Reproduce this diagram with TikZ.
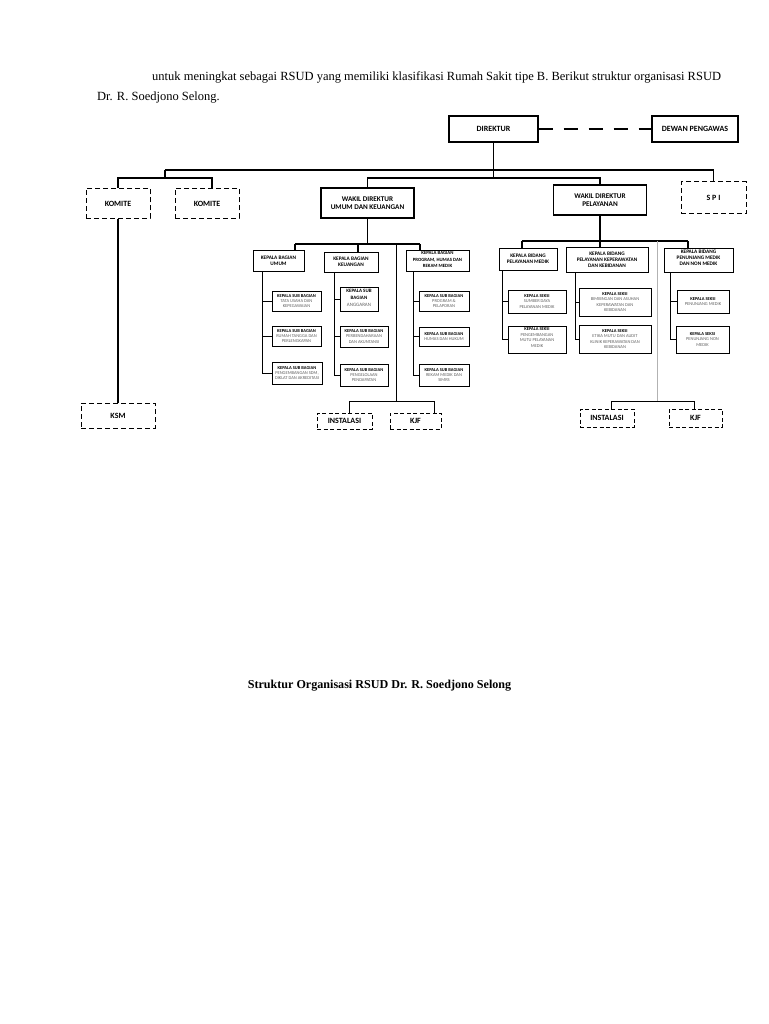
\documentclass[tikz,border=0pt]{standalone}
\usepackage{fontspec}
\setmainfont{Liberation Serif}
\newfontfamily\calfnt{Carlito}
\definecolor{txtg}{gray}{0.38}
\newcommand\grl[1]{\textcolor{txtg}{#1}}
\begin{document}
\begin{tikzpicture}[x=1pt,y=-1pt,
  bx/.style={draw, line width=1.1pt, inner sep=0.3pt, align=center, font=\calfnt\bfseries\fontsize{8}{9.4}\selectfont},
  dbx/.style={bx, line width=1pt, dash pattern=on 5pt off 3pt},
  sz/.style 2 args={minimum width=#1pt, minimum height=#2pt},
  sbx/.style={draw, line width=0.9pt, inner sep=0pt},
  sm/.style={align=center, inner sep=0pt, font=\calfnt\fontsize{4.5}{5.4}\selectfont},
  md/.style={align=center, inner sep=0pt, font=\calfnt\bfseries\fontsize{5.3}{6.1}\selectfont},
  ln/.style={line width=1.1pt},
  ln2/.style={line width=0.9pt}]
\newcommand\obox[6]{\node[sbx,sz={#4}{#5}] (#1) at (#2,#3) {};\node[sm] (#1t) at (#1.center) {#6};}
\fill[white] (0,0) rectangle (768,1024);
\useasboundingbox (0,0) rectangle (768,1024);
% text
\node[anchor=base west, inner sep=0, font=\fontsize{12.5}{14}\selectfont] (t1) at (152,81) {untuk meningkat sebagai RSUD yang memiliki klasifikasi Rumah Sakit tipe B. Berikut struktur organisasi RSUD};
\node[anchor=base west, inner sep=0, font=\fontsize{12.5}{14}\selectfont] (t2) at (97,101) {Dr. R. Soedjono Selong.};
\node[anchor=base, inner sep=0, font=\bfseries\fontsize{12.1}{14}\selectfont] (cap) at (379.5,688) {Struktur Organisasi RSUD Dr. R. Soedjono Selong};
% top level
\node[bx,sz={89}{26}] (dir) at (493.5,129) {DIREKTUR};
\node[bx,sz={86}{26}] (dew) at (695,129) {DEWAN PENGAWAS};
\node[dbx,sz={64}{30}] (kom1) at (118,203.5) {KOMITE};
\node[dbx,sz={64}{30}] (kom2) at (207,203.5) {KOMITE};
\node[bx,sz={93}{30},font=\calfnt\bfseries\fontsize{7.2}{8.6}\selectfont] (wak1) at (367.5,203) {WAKIL DIREKTUR\\UMUM DAN KEUANGAN};
\node[bx,sz={93}{30},font=\calfnt\bfseries\fontsize{7.2}{8.6}\selectfont] (wak2) at (600,200) {WAKIL DIREKTUR\\PELAYANAN};
\node[dbx,sz={65}{32}] (spi) at (713.5,198) {S P I};
\node[dbx,sz={74}{25}] (ksm) at (118,415.5) {KSM};
\draw[ln, dash pattern=on 14pt off 11pt] (dir.east) -- (dew.west);
\coordinate (busL) at (165,170);
\coordinate (busR) at (713.5,170);
\coordinate (kA) at (212,178);
\coordinate (kL) at (165,178);
\coordinate (wA) at (493.5,178);
\draw[ln] (busL) -- (busR);
\draw[ln] (busL) -- (kL);
\draw[ln] (kom1.north) -- (kom1.north |- kA) -- (kA) -- (kom2.north -| kA);
\draw[ln] (dir.south) -- (wA);
\draw[ln] (wak1.north) -- (wak1.north |- wA) -- (wak2.north |- wA) -- (wak2.north);
\draw[ln] (busR) -- (spi.north);
\draw[ln] (kom1.south) -- (ksm.north);
% ---------- WAKIL 1 ----------
\node[sbx,sz={51}{21}] (umum) at (278.5,260.5) {};
\node[md] (umumt) at (umum.center) {KEPALA BAGIAN\\UMUM};
\node[sbx,sz={54}{20}] (keu) at (351,262) {};
\node[md] (keut) at (keu.center) {KEPALA BAGIAN\\KEUANGAN};
\node[sbx,sz={63}{21}] (prog) at (437.5,260.5) {};
\node[md,font=\calfnt\bfseries\fontsize{4.8}{6.2}\selectfont] (progt) at ([yshift=1pt]prog.center) {KEPALA BAGIAN\\PROGRAM, HUMAS DAN\\REKAM MEDIK};
\coordinate (b1) at (367.5,244);
\coordinate (b1L) at (295,244);
\coordinate (b1R) at (420,244);
\coordinate (b1K) at (358,244);
\coordinate (b1V) at (396,244);
\draw[ln] (wak1.south) -- (b1);
\draw[ln] (b1L) -- (b1R);
\draw[ln] (b1L) -- (umum.north -| b1L);
\draw[ln] (b1K) -- (keu.north -| b1K);
\draw[ln] (b1R) -- (prog.north -| b1R);
% sub bagian umum
\obox{su1}{296.5}{301}{49}{20}{\textbf{KEPALA SUB BAGIAN}\\\grl{TATA USAHA DAN}\\\grl{KEPEGAWAIAN}}
\obox{su2}{296.5}{336}{49}{20}{\textbf{KEPALA SUB BAGIAN}\\\grl{RUMAH TANGGA DAN}\\\grl{PERLENGKAPAN}}
\obox{su3}{297}{373}{50}{22}{\textbf{KEPALA SUB BAGIAN}\\\grl{PENGEMBANGAN SDM,}\\\grl{DIKLAT DAN AKREDITASI}}
\coordinate (vu) at (262,0);
\draw[ln2] (umum.south -| vu) -- (vu |- su3.west);
\foreach \n in {su1,su2,su3} \draw[ln2] (vu |- \n.west) -- (\n.west);
% sub bagian keuangan
\node[sbx,sz={38}{24}] (sk1) at (359,299) {};
\node[sm,font=\calfnt\fontsize{5}{7}\selectfont] (sk1t) at ([yshift=1pt]sk1.center) {\textbf{KEPALA SUB}\\\textbf{BAGIAN}\\\grl{ANGGARAN}};
\obox{sk2}{364}{336.5}{48}{21}{\textbf{KEPALA SUB BAGIAN}\\\grl{PERBENDAHARAAN}\\\grl{DAN AKUNTANSI}}
\obox{sk3}{364}{375}{48}{22}{\textbf{KEPALA SUB BAGIAN}\\\grl{PENGELOLAAN}\\\grl{PENDAPATAN}}
\coordinate (vk) at (334,0);
\draw[ln2] (keu.south -| vk) -- (vk |- sk3.west);
\foreach \n in {sk1,sk2,sk3} \draw[ln2] (vk |- \n.west) -- (\n.west);
% sub bagian program
\obox{sp1}{444}{301}{50}{20}{\textbf{KEPALA SUB BAGIAN}\\\grl{PROGRAM \&}\\\grl{PELAPORAN}}
\obox{sp2}{444}{336.5}{50}{19}{\textbf{KEPALA SUB BAGIAN}\\\grl{HUMAS DAN HUKUM}}
\obox{sp3}{444}{375}{50}{22}{\textbf{KEPALA SUB BAGIAN}\\\grl{REKAM MEDIK DAN}\\\grl{SIMRS}}
\coordinate (vp) at (413,0);
\draw[ln2] (prog.south -| vp) -- (vp |- sp3.west);
\foreach \n in {sp1,sp2,sp3} \draw[ln2] (vp |- \n.west) -- (\n.west);
% instalasi / kjf 1
\node[dbx,sz={55}{16},line width=0.9pt,dash pattern=on 4pt off 2.5pt] (ins1) at (344.5,421) {INSTALASI};
\node[dbx,sz={51}{16},line width=0.9pt,dash pattern=on 4pt off 2.5pt] (kjf1) at (415.5,421) {KJF};
\coordinate (i1) at (396,401);
\coordinate (i1L) at (349,401);
\coordinate (i1R) at (434,401);
\draw[ln2] (b1V) -- (i1);
\draw[ln2] (i1L) -- (i1R);
\draw[ln2] (i1L) -- (ins1.north -| i1L);
\draw[ln2] (i1R) -- (kjf1.north -| i1R);
% ---------- WAKIL 2 ----------
\node[sbx,sz={58}{22}] (bm) at (528,259) {};
\node[md] (bmt) at (bm.center) {KEPALA BIDANG\\PELAYANAN MEDIK};
\node[sbx,sz={82}{25}] (bk) at (607,259.5) {};
\node[md] (bkt) at (bk.center) {KEPALA BIDANG\\PELAYANAN KEPERAWATAN\\DAN KEBIDANAN};
\node[sbx,sz={69}{24}] (bp) at (698.5,260) {};
\node[md] (bpt) at ([yshift=2pt]bp.center) {KEPALA BIDANG\\PENUNJANG MEDIK\\DAN NON MEDIK};
\coordinate (b2L) at (522,241);
\coordinate (b2R) at (688,241);
\coordinate (b2V) at (657,241);
\draw[ln] (wak2.south) -- (bk.north -| wak2.south);
\draw[ln] (b2L) -- (b2R);
\draw[ln] (b2L) -- (bm.north -| b2L);
\draw[ln] (b2R) -- (bp.north -| b2R);
% seksi medik
\obox{sm1}{537}{301.5}{58}{23}{\textbf{KEPALA SEKSI}\\\grl{SUMBER DAYA}\\\grl{PELAYANAN MEDIK}}
\node[sbx,sz={58}{27}] (sm2) at (537,339.5) {};
\node[sm] (sm2t) at ([yshift=2pt]sm2.center) {\textbf{KEPALA SEKSI}\\\grl{PENGEMBANGAN}\\\grl{MUTU PELAYANAN}\\\grl{MEDIK}};
\coordinate (vm) at (502,0);
\draw[ln2] (bm.south -| vm) -- (vm |- sm2.west);
\foreach \n in {sm1,sm2} \draw[ln2] (vm |- \n.west) -- (\n.west);
% seksi keperawatan
\obox{sb1}{615}{302}{72}{28}{\textbf{KEPALA SEKSI}\\\grl{BIMBINGAN DAN ASUHAN}\\\grl{KEPERAWATAN DAN}\\\grl{KEBIDANAN}}
\obox{sb2}{615}{339}{72}{28}{\textbf{KEPALA SEKSI}\\\grl{ETIKA MUTU DAN AUDIT}\\\grl{KLINIK KEPERAWATAN DAN}\\\grl{KEBIDANAN}}
\coordinate (vb) at (575,0);
\draw[ln2] (bk.south -| vb) -- (vb |- sb2.west);
\foreach \n in {sb1,sb2} \draw[ln2] (vb |- \n.west) -- (\n.west);
% seksi penunjang
\obox{sn1}{703}{301.5}{52}{23}{\textbf{KEPALA SEKSI}\\\grl{PENUNJANG MEDIK}}
\obox{sn2}{702.5}{339.5}{53}{27}{\textbf{KEPALA SEKSI}\\\grl{PENUNJANG NON}\\\grl{MEDIK}}
\coordinate (vn) at (670,0);
\draw[ln2] (bp.south -| vn) -- (vn |- sn2.west);
\foreach \n in {sn1,sn2} \draw[ln2] (vn |- \n.west) -- (\n.west);
% instalasi / kjf 2
\node[dbx,sz={54}{18},line width=0.9pt,dash pattern=on 4pt off 2.5pt] (ins2) at (607,418) {INSTALASI};
\node[dbx,sz={53}{18},line width=0.9pt,dash pattern=on 4pt off 2.5pt] (kjf2) at (695.5,418) {KJF};
\coordinate (i2) at (657,401);
\coordinate (i2L) at (611,401);
\coordinate (i2R) at (694,401);
\draw[line width=0.9pt, gray!60] (b2V) -- (i2);
\draw[ln2] (i2L) -- (i2R);
\draw[ln2] (i2L) -- (ins2.north -| i2L);
\draw[ln2] (i2R) -- (kjf2.north -| i2R);
\end{tikzpicture}
\end{document}
